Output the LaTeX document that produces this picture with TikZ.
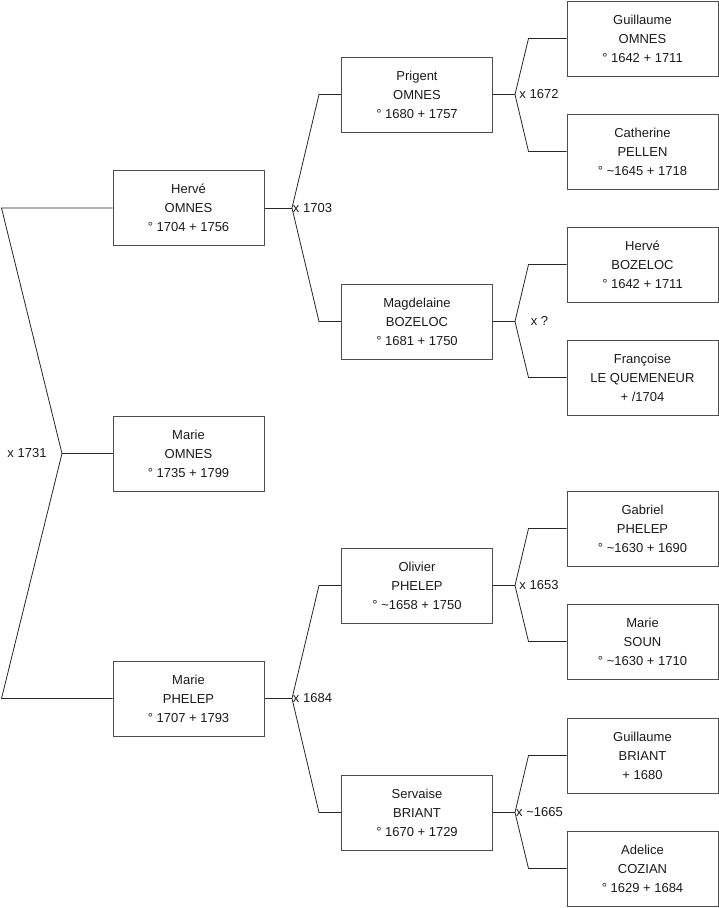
\documentclass[tikz,border=0pt]{standalone}
\usepackage{fontspec}
\setmainfont{Liberation Sans}
\usepackage{xcolor}
\usepackage{tikz}
\usetikzlibrary{calc, positioning}

\definecolor{bord}{HTML}{4D4D4D}
\definecolor{texte}{HTML}{1A1A1A}

\begin{document}
\begin{tikzpicture}[x=1pt, y=-1pt,
    pers/.style={draw=bord, line width=1pt, minimum width=151pt, minimum height=75pt,
                 inner sep=0pt, align=center, text=texte,
                 font=\fontsize{13}{19}\selectfont},
    mar/.style={text=texte, inner sep=0pt, font=\fontsize{13}{15}\selectfont},
    lien/.style={line width=0.8pt, draw=black!85}]
    \useasboundingbox (0,0) rectangle (719,908);

    % --- Génération 1 ---
    \node[pers] (herve)  at (188.5,208)   {Hervé\\OMNES\\° 1704 + 1756};
    \node[pers] (marie)  at (188.5,453.5) {Marie\\OMNES\\° 1735 + 1799};
    \node[pers] (mphel)  at (188.5,698.5) {Marie\\PHELEP\\° 1707 + 1793};

    % --- Génération 2 ---
    \node[pers] (prigent) at (417,94.5)  {Prigent\\OMNES\\° 1680 + 1757};
    \node[pers] (magd)    at (417,321.5) {Magdelaine\\BOZELOC\\° 1681 + 1750};
    \node[pers] (olivier) at (417,585.5) {Olivier\\PHELEP\\° \textasciitilde1658 + 1750};
    \node[pers] (serv)    at (417,812.5) {Servaise\\BRIANT\\° 1670 + 1729};

    % --- Génération 3 ---
    \node[pers] (guil)  at (642.5,38.5)  {Guillaume\\OMNES\\° 1642 + 1711};
    \node[pers] (cath)  at (642.5,151.5) {Catherine\\PELLEN\\° \textasciitilde1645 + 1718};
    \node[pers] (hboz)  at (642.5,264.5) {Hervé\\BOZELOC\\° 1642 + 1711};
    \node[pers] (fran)  at (642.5,377.5) {Françoise\\LE QUEMENEUR\\+ /1704};
    \node[pers] (gabr)  at (642.5,528.5) {Gabriel\\PHELEP\\° \textasciitilde1630 + 1690};
    \node[pers] (msoun) at (642.5,641.5) {Marie\\SOUN\\° \textasciitilde1630 + 1710};
    \node[pers] (gbri)  at (642.5,755.5) {Guillaume\\BRIANT\\+ 1680};
    \node[pers] (adel)  at (642.5,868.5) {Adelice\\COZIAN\\° 1629 + 1684};

    % Points des accolades
    \coordinate (j0) at (62,453.5);
    \coordinate (h0) at (1.5,208);
    \coordinate (b0) at (1.5,698.5);

    \coordinate (j1) at (292,208);
    \coordinate (j2) at (292,698.5);

    \coordinate (j3) at (515,94.5);
    \coordinate (j4) at (515,321.5);
    \coordinate (j5) at (515,585.5);
    \coordinate (j6) at (515,812.5);

    % Accolade de Marie OMNES
    \draw[lien] (herve.west) -- (h0) -- (j0) -- (b0) -- (mphel.west);
    \draw[lien] (j0) -- (marie.west);
    \node[mar] (m0) at (27,453) {x 1731};

    % Accolades des parents
    \draw[lien] (herve.east) -- (j1);
    \draw[lien] (prigent.west) -- ++(-22,0) -- (j1) -- ($(magd.west)+(-22,0)$) -- (magd.west);
    \node[mar] (m1) at (312.5,208) {x 1703};

    \draw[lien] (mphel.east) -- (j2);
    \draw[lien] (olivier.west) -- ++(-22,0) -- (j2) -- ($(serv.west)+(-22,0)$) -- (serv.west);
    \node[mar] (m2) at (312.5,698.5) {x 1684};

    % Accolades des grands-parents
    \draw[lien] (prigent.east) -- (j3);
    \draw[lien] (guil.west) -- ++(-38,0) -- (j3) -- ($(cath.west)+(-38,0)$) -- (cath.west);
    \node[mar] (m3) at (539,94.5) {x 1672};

    \draw[lien] (magd.east) -- (j4);
    \draw[lien] (hboz.west) -- ++(-38,0) -- (j4) -- ($(fran.west)+(-38,0)$) -- (fran.west);
    \node[mar] (m4) at (539.5,321) {x ?};

    \draw[lien] (olivier.east) -- (j5);
    \draw[lien] (gabr.west) -- ++(-38,0) -- (j5) -- ($(msoun.west)+(-38,0)$) -- (msoun.west);
    \node[mar] (m5) at (539,585.5) {x 1653};

    \draw[lien] (serv.east) -- (j6);
    \draw[lien] (gbri.west) -- ++(-38,0) -- (j6) -- ($(adel.west)+(-38,0)$) -- (adel.west);
    \node[mar] (m6) at (539.5,812) {x \textasciitilde1665};

\end{tikzpicture}
\end{document}
